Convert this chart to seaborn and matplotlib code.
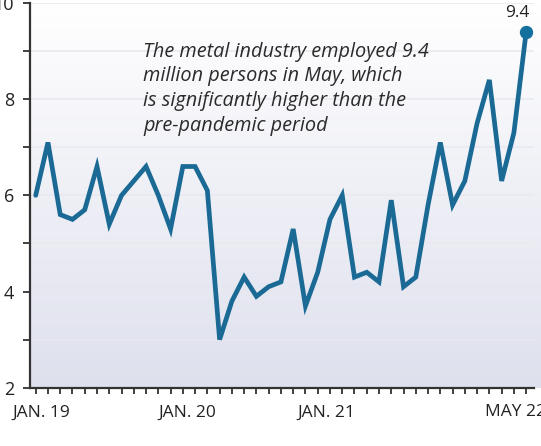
import numpy as np
import pandas as pd
import matplotlib
matplotlib.use("Agg")
import matplotlib.pyplot as plt
import matplotlib.transforms as mtransforms
import seaborn as sns

# ---- data ----
months = pd.date_range("2019-01-01", "2022-05-01", freq="MS")
employed = [6.0, 7.1, 5.6, 5.5, 5.7, 6.6, 5.4, 6.0, 6.3, 6.6, 6.0, 5.3,
            6.6, 6.6, 6.1, 3.0, 3.8, 4.3, 3.9, 4.1, 4.2, 5.3, 3.7, 4.4,
            5.5, 6.0, 4.3, 4.4, 4.2, 5.9, 4.1, 4.3, 5.8, 7.1, 5.8, 6.3,
            7.5, 8.4, 6.3, 7.3, 9.4]
tick_labels = ["JAN. 19", "JAN. 20", "JAN. 21", "MAY 22"]
tick_months = [0, 12, 24, 40]
y_major = [2, 4, 6, 8, 10]
y_minor = [3, 5, 7, 9]
annotation = ("The metal industry employed 9.4\n"
              "million persons in May, which\n"
              "is significantly higher than the\n"
              "pre-pandemic period")

df = pd.DataFrame({"idx": np.arange(len(employed)), "value": employed})

sns.set_theme(style="white")
plt.rcParams["font.family"] = ["Open Sans", "DejaVu Sans"]

W, H = 541, 446
fig = plt.figure(figsize=(W / 100, H / 100), dpi=100)

# gradient background (extends slightly past the plot to the right edge)
L, R, T, B = 30, 541, 3, 387.7
bg = fig.add_axes([L / W, 1 - B / H, (R - L) / W, (B - T) / H])
grad = np.linspace(0, 1, 256).reshape(-1, 1)
top_c = np.array([1.0, 1.0, 1.0])
bot_c = np.array([222, 224, 237]) / 255
img = top_c[None, None, :] * (1 - grad[..., None]) + bot_c[None, None, :] * grad[..., None]
bg.imshow(img, aspect="auto", extent=[0, 1, 0, 1], origin="upper")
bg.set_axis_off()

R2 = 533.5
ax = fig.add_axes([L / W, 1 - B / H, (R2 - L) / W, (B - T) / H])
ax.patch.set_alpha(0)

line_color = "#1b6a95"
sns.lineplot(data=df, x="idx", y="value", ax=ax, color=line_color,
             linewidth=3.4, solid_joinstyle="miter", zorder=3)
ax.plot(df["idx"].iloc[-1], df["value"].iloc[-1], "o", color="#14719e",
        markersize=8.6, zorder=4)
ax.annotate(f"{employed[-1]:.1f}", (df["idx"].iloc[-1], df["value"].iloc[-1]),
            xytext=(-6, 7.5), textcoords="offset points", ha="center", va="bottom",
            fontsize=12.5, color="#222222")

ax.set_xlim(-0.465, 40.6)
ax.set_ylim(2, 10)
ax.set_yticks(y_major)
ax.set_yticks(y_minor, minor=True)
ax.set_yticklabels([str(v) for v in y_major])
for v in y_major + y_minor:
    ax.axhline(v, color="#e9e9ef", linewidth=1.2, zorder=1)

ax.set_xticks(range(len(employed)), minor=True)
ax.set_xticks(tick_months)
ax.set_xticklabels(tick_labels)

ax.tick_params(axis="y", which="both", direction="out", length=5, width=1.3,
               color="#333333", labelsize=13, labelcolor="#222222", pad=6.5, left=True)
ax.tick_params(axis="x", which="both", direction="out", length=4, width=1.3,
               color="#333333", labelsize=12.5, labelcolor="#222222", pad=8, bottom=True)

# small horizontal nudges of the tick labels, as in the reference
shifts_px = [6, 4, -4, -11]
for lab, dx in zip(ax.get_xticklabels(), shifts_px):
    lab.set_transform(lab.get_transform() +
                      mtransforms.ScaledTranslation(dx / 100, 0, fig.dpi_scale_trans))

for s in ["top", "right"]:
    ax.spines[s].set_visible(False)
for s in ["left", "bottom"]:
    ax.spines[s].set_visible(True)
    ax.spines[s].set_color("#333333")
    ax.spines[s].set_linewidth(1.6)
ax.set_xlabel("")
ax.set_ylabel("")

ax.text((143 - L) / (R2 - L), (B - 42) / (B - T), annotation,
        transform=ax.transAxes, ha="left", va="top", fontsize=14.3,
        style="italic", color="#2a2a2a", linespacing=1.3, zorder=5)

fig.savefig("out.png", dpi=100)
